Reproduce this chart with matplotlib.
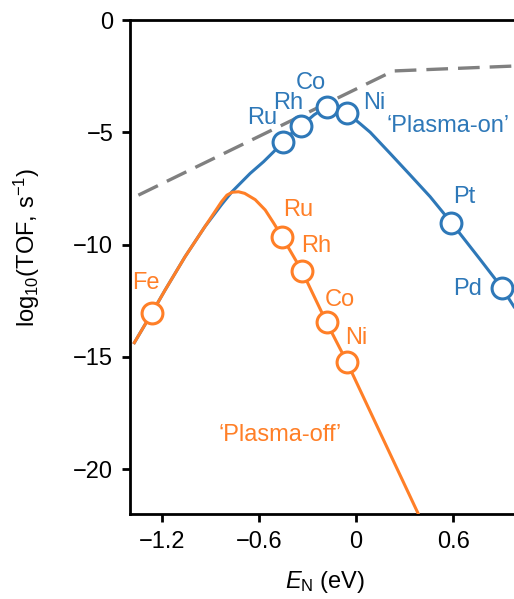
import matplotlib
matplotlib.use("Agg")
import matplotlib.pyplot as plt

plt.rcParams['font.family'] = ['Liberation Sans', 'DejaVu Sans']
plt.rcParams['mathtext.fontset'] = 'custom'
plt.rcParams['mathtext.rm'] = 'Liberation Sans'
plt.rcParams['mathtext.it'] = 'Liberation Sans:italic'

BLUE = '#2e78b8'
ORANGE = '#ff7f27'
GREY = '#808080'
FS = 17

# metal points
on_metals = ['Ru', 'Rh', 'Co', 'Ni', 'Pt', 'Pd']
on_x = [-0.453, -0.340, -0.181, -0.058, 0.590, 0.903]
on_y = [-5.42, -4.71, -3.86, -4.13, -9.03, -11.93]

off_metals = ['Fe', 'Ru', 'Rh', 'Co', 'Ni']
off_x = [-1.264, -0.458, -0.336, -0.183, -0.058]
off_y = [-13.04, -9.66, -11.17, -13.47, -15.22]

# volcano curves
on_curve_x = [-1.373, -1.264, -1.183, -1.059, -0.936, -0.833, -0.769,
              -0.656, -0.573, -0.511, -0.453, -0.400, -0.340, -0.260,
              -0.181, -0.120, -0.058, 0.025, 0.087, 0.210, 0.334,
              0.458, 0.551, 0.590, 0.767, 0.903, 0.977]
on_curve_y = [-14.37, -13.04, -12.03, -10.54, -9.20, -8.22, -7.65,
              -6.83, -6.31, -5.87, -5.42, -5.05, -4.71, -4.22,
              -3.86, -3.92, -4.13, -4.62, -5.00, -5.94, -6.90,
              -7.87, -8.69, -9.03, -10.66, -11.93, -12.77]

off_curve_x = [-1.373, -1.264, -1.183, -1.059, -0.936, -0.833, -0.800,
               -0.767, -0.728, -0.690, -0.625, -0.563, -0.511, -0.458,
               -0.336, -0.183, -0.058, 0.385]
off_curve_y = [-14.37, -13.04, -12.03, -10.54, -9.20, -8.09, -7.80,
               -7.67, -7.65, -7.72, -8.00, -8.46, -9.04, -9.66,
               -11.17, -13.47, -15.22, -22.0]

# limit line
lim_x = [-1.348, 0.229, 0.977]
lim_y = [-7.80, -2.27, -2.05]

on_label_pos = [(-0.58, -4.36), (-0.42, -3.70), (-0.28, -2.80),
                (0.11, -3.70), (0.67, -7.88), (0.69, -12.0)]
off_label_pos = [(-1.30, -11.70), (-0.36, -8.46), (-0.25, -10.07),
                 (-0.10, -12.47), (0.00, -14.16)]

fig = plt.figure(figsize=(5.14, 5.99), dpi=100)
ax = fig.add_axes([0.2529, 0.1419, 0.7471, 0.8247])

ax.plot(lim_x, lim_y, color=GREY, lw=2.4, linestyle=(0, (6.5, 3)), zorder=1)
ax.plot(on_curve_x, on_curve_y, color=BLUE, lw=2.2, zorder=2)
ax.plot(off_curve_x, off_curve_y, color=ORANGE, lw=2.2, zorder=3)
ax.plot(on_x, on_y, 'o', ms=15, mfc='white', mec=BLUE, mew=2.2, zorder=4)
ax.plot(off_x, off_y, 'o', ms=15, mfc='white', mec=ORANGE, mew=2.2, zorder=4)

for name, (lx, ly) in zip(on_metals, on_label_pos):
    ax.text(lx, ly, name, color=BLUE, fontsize=FS, ha='center', va='center')
for name, (lx, ly) in zip(off_metals, off_label_pos):
    ax.text(lx, ly, name, color=ORANGE, fontsize=FS, ha='center', va='center')

ax.text(0.57, -4.72, '\u2018Plasma-on\u2019', color=BLUE, fontsize=FS,
        ha='center', va='center')
ax.text(-0.47, -18.49, '\u2018Plasma-off\u2019', color=ORANGE, fontsize=FS,
        ha='center', va='center')

ax.set_xlim(-1.4, 0.977)
ax.set_ylim(-22, 0)
ax.set_xticks([-1.2, -0.6, 0, 0.6])
ax.set_xticklabels(['\u22121.2', '\u22120.6', '0', '0.6'])
ax.set_yticks([0, -5, -10, -15, -20])
ax.set_yticklabels(['0', '\u22125', '\u221210', '\u221215', '\u221220'])
ax.tick_params(labelsize=FS, width=2, length=6, direction='out', pad=6)

ax.spines['right'].set_visible(False)
for side in ['left', 'bottom', 'top']:
    ax.spines[side].set_linewidth(2)

fig.text(325 / 514, 1 - 582 / 599, r'$E_\mathrm{N}$ (eV)', fontsize=FS,
         ha='center', va='center')
fig.text(27 / 514, 1 - 247 / 599, r'log$_{10}$(TOF, s$^{-1}$)', fontsize=FS,
         ha='center', va='center', rotation=90)

fig.savefig('out.png', dpi=100)
